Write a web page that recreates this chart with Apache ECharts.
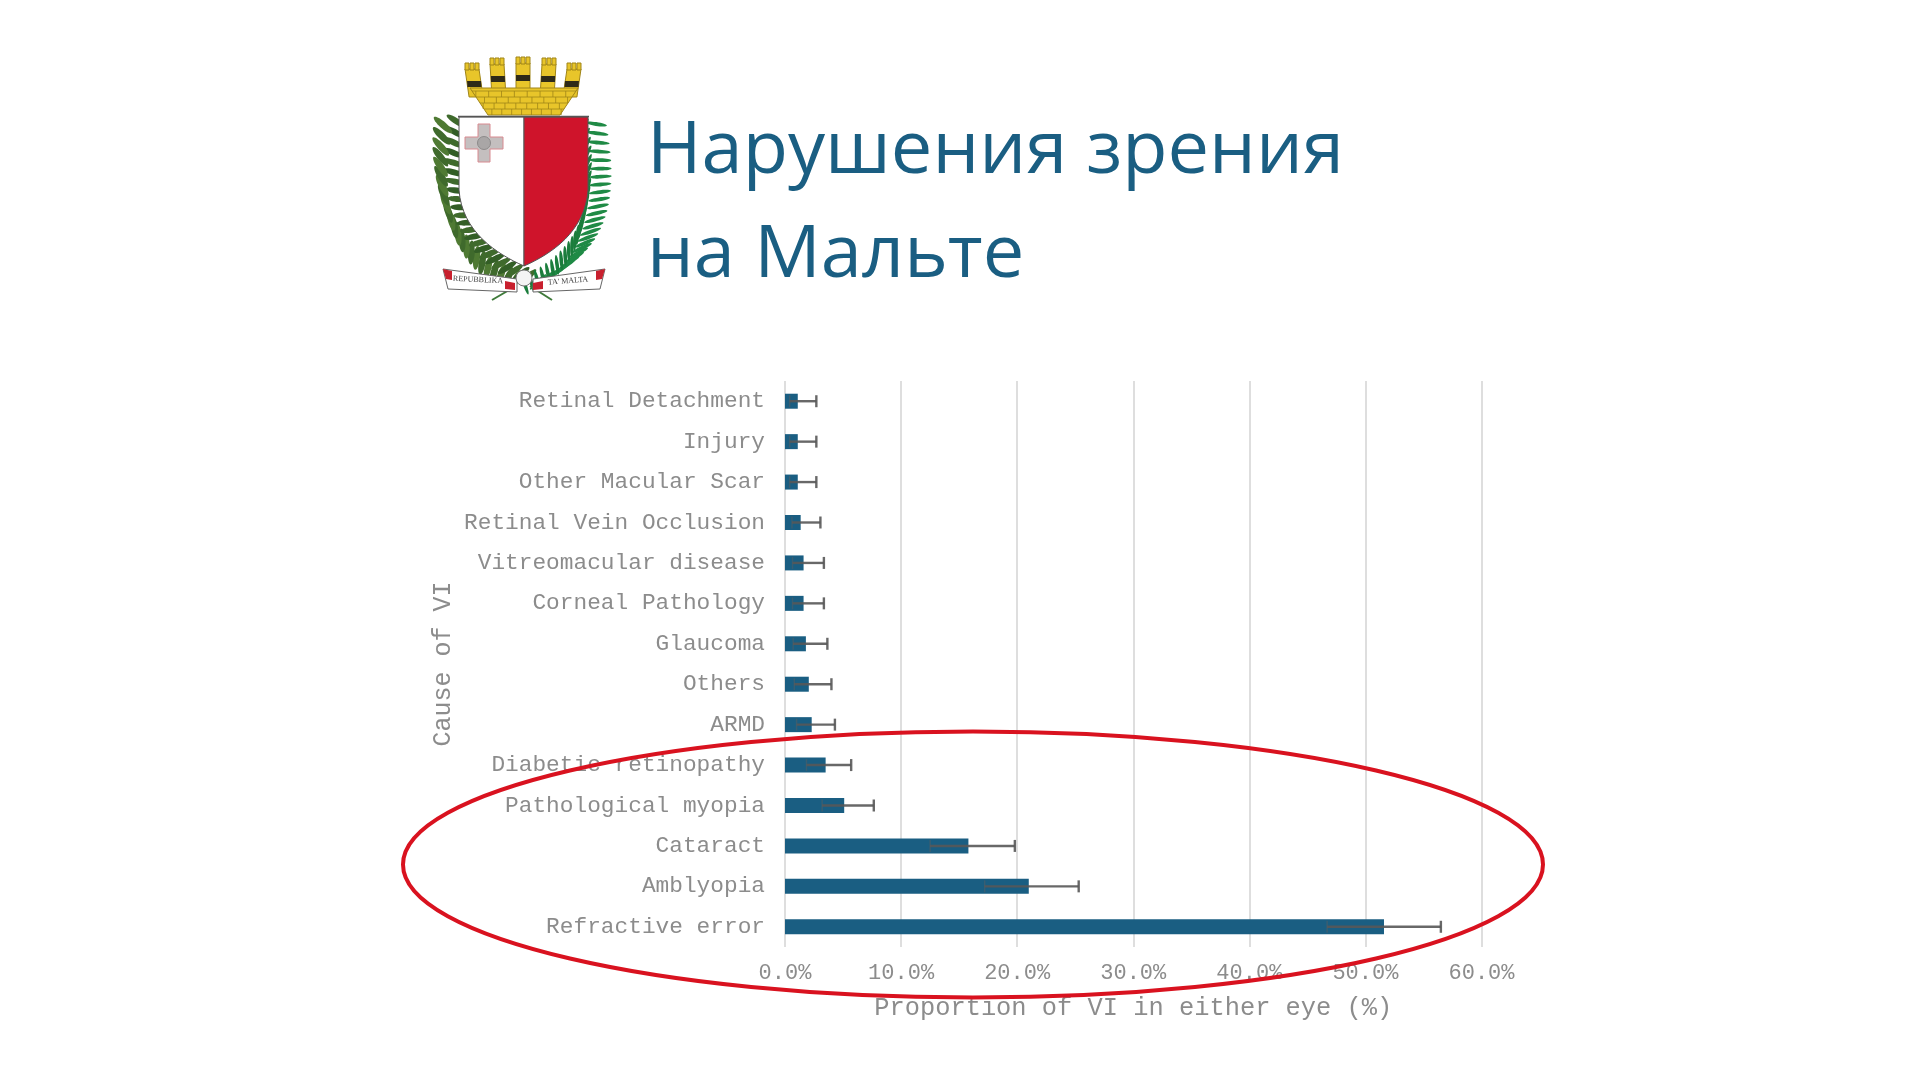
<!DOCTYPE html>
<html>
<head>
<meta charset="utf-8">
<style>html,body{margin:0;padding:0;background:#fff}#c{width:1920px;height:1080px}</style>
<script src="https://cdn.jsdelivr.net/npm/echarts@6/dist/echarts.min.js"></script>
</head>
<body>
<div id="c"></div>
<script>
var categories = ['Refractive error','Amblyopia','Cataract','Pathological myopia','Diabetic retinopathy','ARMD','Others','Glaucoma','Corneal Pathology','Vitreomacular disease','Retinal Vein Occlusion','Other Macular Scar','Injury','Retinal Detachment'];
var proportion = [51.6,21.0,15.8,5.1,3.5,2.3,2.05,1.8,1.6,1.6,1.35,1.1,1.1,1.1];
var errorLow  = [46.7,17.2,12.5,3.2,1.85,1.0,0.8,0.7,0.65,0.65,0.6,0.4,0.4,0.4];
var errorHigh = [56.5,25.3,19.8,7.65,5.7,4.3,4.0,3.65,3.35,3.35,3.05,2.7,2.7,2.7];
var titleLines = ['Нарушения зрения','на Мальте'];
var xAxisName = 'Proportion of VI in either eye (%)';
var yAxisName = 'Cause of VI';

var BLUE = '#1a5e82', GREY = '#8c8c8c', MONO = '"Liberation Mono"';

/* ---- decorative emblem, drawn with graphic elements ---- */
var emblem = [];
function poly(pts, fill, stroke, lw, z){ emblem.push({type:'polygon', z:z||5, shape:{points:pts}, style:{fill:fill, stroke:stroke||null, lineWidth:lw||0}}); }
function leaf(cx, cy, a, len, wid, fill){ emblem.push({type:'ellipse', z:4, x:cx, y:cy, rotation:a, shape:{cx:0, cy:0, rx:len, ry:wid}, style:{fill:fill}}); }
function cubic(p0,p1,p2,p3,n){ var r=[]; for(var i=0;i<=n;i++){var t=i/n,u=1-t; r.push([u*u*u*p0[0]+3*u*u*t*p1[0]+3*u*t*t*p2[0]+t*t*t*p3[0], u*u*u*p0[1]+3*u*u*t*p1[1]+3*u*t*t*p2[1]+t*t*t*p3[1]]);} return r; }

// left laurel branch
cubic([522,280],[468,262],[438,205],[450,124],22).forEach(function(p,i){
  var a = 0.6 + i*0.06;
  leaf(p[0]-7, p[1]+1, a+0.5, 12, 3.4, i%2?'#3f6a2c':'#4f7a33');
  leaf(p[0]+6, p[1]-3, -a+0.15+1.2, 11, 3, i%2?'#335e26':'#3f6a2c');
});
// right palm frond
cubic([530,280],[585,258],[602,205],[588,122],26).forEach(function(p,i){
  var a = 0.75 - i*0.035;
  leaf(p[0]+8, p[1]+2, a, 11, 1.9, '#1f8a45');
  leaf(p[0]-5, p[1]+5, a+1.15, 10, 1.8, '#1b7d3c');
});
// crown
var Y = '#e8c52a', D = '#2e2a18', L = '#a08518';
[[472,63,-0.12],[497,58,-0.05],[523,57,0],[549,58,0.05],[574,63,0.12]].forEach(function(t){
  var x=t[0], y=t[1], s=t[2], w=14, h=34, dx=-s*h;
  poly([[x-w/2,y+6],[x+w/2,y+6],[x+w/2+dx,y+h],[x-w/2+dx,y+h]],Y,L,1,6);
  [-w/2,-2,w/2-4].forEach(function(o){ poly([[x+o,y+7],[x+o+4,y+7],[x+o+4,y],[x+o,y]],Y,L,1,6); });
  poly([[x-w/2+dx*0.5,y+18],[x+w/2+dx*0.5,y+18],[x+w/2+dx*0.6,y+24],[x-w/2+dx*0.6,y+24]],D,null,0,8);
});
poly([[470,88],[578,88],[560,115],[488,115]],Y,L,1,7);
[91,97,103,109].forEach(function(by,r){
  var inset=(by-88)*0.68;
  emblem.push({type:'line',z:8,shape:{x1:470+inset,y1:by,x2:578-inset,y2:by},style:{stroke:L,lineWidth:0.8}});
  for (var k=0;k<8;k++){ var bx=474+inset*0.9+k*(100-inset*1.8)/7.5+(r%2?5:0); if(bx<578-inset-2) emblem.push({type:'line',z:8,shape:{x1:bx,y1:by,x2:bx,y2:by+6},style:{stroke:L,lineWidth:0.8}}); }
});
// shield
var leftEdge = [[459,117]].concat(cubic([459,190],[462,232],[497,254],[524,266],16));
var rightEdge = [[588,117]].concat(cubic([588,190],[585,232],[551,254],[524,266],16));
poly(leftEdge.concat([[524,117]]),'#ffffff','#555555',1,6);
poly(rightEdge.concat([[524,117]]),'#cf142b','#555555',1,6);
emblem.push({type:'line',z:7,shape:{x1:458,y1:116.5,x2:589,y2:116.5},style:{stroke:'#555',lineWidth:1.6}});
// George cross
poly([[478,124],[490,124],[490,137],[503,137],[503,149],[490,149],[490,162],[478,162],[478,149],[465,149],[465,137],[478,137]],'#c4bfbf','#d88a90',1,7);
emblem.push({type:'circle',z:8,shape:{cx:484,cy:143,r:6.5},style:{fill:'#a9a6a6',stroke:'#8d8a8a',lineWidth:1}});
// ribbon
poly([[443,269],[517,279],[517,292],[448,289]],'#ffffff','#666',1,7);
poly([[605,269],[533,279],[533,292],[600,289]],'#ffffff','#666',1,7);
poly([[443,269],[452,271],[452,280],[446,279]],'#c8202e',null,0,8);
poly([[605,269],[596,271],[596,280],[602,279]],'#c8202e',null,0,8);
emblem.push({type:'circle',z:8,shape:{cx:524,cy:278,r:8},style:{fill:'#f4f4f4',stroke:'#777',lineWidth:1}});
poly([[505,281],[515,283],[515,290],[505,289]],'#c8202e',null,0,8);
poly([[533,283],[543,281],[543,289],[533,290]],'#c8202e',null,0,8);
emblem.push({type:'line',z:5,shape:{x1:516,y1:286,x2:492,y2:300},style:{stroke:'#3f7a3a',lineWidth:2}});
emblem.push({type:'line',z:5,shape:{x1:530,y1:286,x2:552,y2:300},style:{stroke:'#3f7a3a',lineWidth:2}});
emblem.push({type:'text',z:9,x:478,y:280,rotation:-0.05,style:{text:'REPUBBLIKA',font:'8px "Liberation Serif"',fill:'#444',align:'center',verticalAlign:'middle'}});
emblem.push({type:'text',z:9,x:568,y:281,rotation:0.08,style:{text:"TA' MALTA",font:'8px "Liberation Serif"',fill:'#444',align:'center',verticalAlign:'middle'}});
// red hand-drawn ellipse annotation
emblem.push({type:'ellipse',z:50,shape:{cx:973,cy:864.5,rx:570,ry:133},style:{fill:'none',stroke:'#d9121f',lineWidth:4}});

var chart = echarts.init(document.getElementById('c'), null, {renderer:'canvas', width:1920, height:1080});
chart.setOption({
  backgroundColor:'#ffffff',
  animation:false,
  title:[
    {text:titleLines[0], left:642, top:110, textStyle:{fontFamily:'"Open Sans"', fontWeight:400, fontSize:74, color:BLUE}},
    {text:titleLines[1], left:642, top:214, textStyle:{fontFamily:'"Open Sans"', fontWeight:400, fontSize:74, color:BLUE}}
  ],
  grid:{left:785, width:696.5, top:381, height:566, containLabel:false},
  xAxis:{
    type:'value', min:0, max:60, interval:10,
    name:xAxisName, nameLocation:'middle', nameGap:49,
    nameTextStyle:{fontFamily:MONO, fontSize:25.4, color:GREY},
    axisLine:{show:false}, axisTick:{show:false},
    axisLabel:{margin:15, fontFamily:MONO, fontSize:22, color:GREY, formatter:function(v){return v.toFixed(1)+'%';}},
    splitLine:{show:true, lineStyle:{color:'#dedede', width:2}}
  },
  yAxis:{
    type:'category', data:categories,
    name:yAxisName, nameLocation:'middle', nameGap:329, nameRotate:90,
    nameTextStyle:{fontFamily:MONO, fontSize:25, color:GREY},
    axisLine:{show:false}, axisTick:{show:false},
    axisLabel:{margin:20, fontFamily:MONO, fontSize:22.8, color:GREY, interval:0}
  },
  series:[
    {type:'bar', data:proportion, barWidth:15, itemStyle:{color:BLUE}, silent:true, z:2},
    {type:'custom', z:3, silent:true, clip:false,
     data:categories.map(function(c,i){return [errorLow[i], errorHigh[i], i];}),
     encode:{x:[0,1], y:2},
     renderItem:function(params, api){
       var a = api.coord([api.value(0), api.value(2)]);
       var b = api.coord([api.value(1), api.value(2)]);
       var st = {stroke:'rgba(88,88,88,0.9)', lineWidth:2.4, fill:null};
       return {type:'group', children:[
         {type:'line', shape:{x1:a[0],y1:a[1],x2:b[0],y2:b[1]}, style:st},
         {type:'line', shape:{x1:a[0],y1:a[1]-6,x2:a[0],y2:a[1]+6}, style:{stroke:'rgba(95,95,95,0.45)',lineWidth:1.5}},
         {type:'line', shape:{x1:b[0],y1:b[1]-6,x2:b[0],y2:b[1]+6}, style:st}
       ]};
     }}
  ],
  graphic:{elements:emblem}
});
</script>
</body>
</html>
